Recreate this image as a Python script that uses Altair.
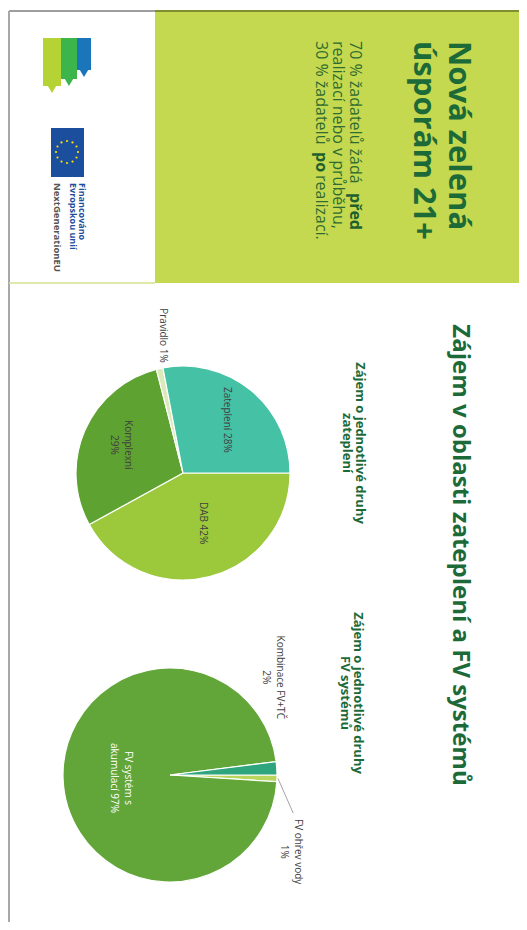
import math
import altair as alt
import pandas as pd

# ---------------- data ----------------
ins_cat = ["DAB", "Komplexní", "Pravidlo", "Zateplení"]
ins_pct = [42, 29, 1, 28]
ins_lab = ["DAB 42%", "Komplexní\n29%", "Pravidlo 1%", "Zateplení 28%"]

pv_cat = ["FV ohřev vody", "FV systém s akumulací", "Kombinace FV+TČ"]
pv_pct = [1, 97, 2]
pv_lab = ["FV ohřev vody\n1%", "FV systém s\nakumulací 97%", "Kombinace FV+TČ\n2%"]

main_title = "Zájem v oblasti zateplení a FV systémů"
ins_title = "Zájem o jednotlivé druhy\nzateplení"
pv_title = "Zájem o jednotlivé druhy\nFV systémů"
head_title = "Nová zelená\núsporám 21+"
sub_lines = ["70 % žadatelů žádá ", "realizací nebo v průběhu,", "30 % žadatelů "]
sub_bold = ["před", "po"]
sub_tail = "realizací."
eu_lines = ["Financováno", "Evropskou unií", "NextGenerationEU"]

# ---------------- styles / layout ----------------
FONT = "Open Sans"
W, H = 511, 914
XS = alt.Scale(domain=[8, 8 + W], nice=False, zero=False)
YS = alt.Scale(domain=[8, 8 + H], nice=False, zero=False, reverse=True)
TS = alt.Scale(domain=[0, 100], range=[math.pi / 2, math.pi / 2 + 2 * math.pi])
all_cat = ins_cat + pv_cat
all_col = ["#9BC93B", "#5EA332", "#DCE9B8", "#45C2A5",
           "#B9D65C", "#62A539", "#2EA57C"]
CS = alt.Scale(domain=all_cat, range=all_col)
GREEN_DARK = "#1D6A39"
LABEL = "#404040"

ins_center, pv_center, R = (183, 473), (170, 775), 107
ins_lab_r = [54, 62, 139, 69]
ins_lab_adj = [-2.1, 1.0, 1.2, 0]
ins_lab_col = [LABEL, LABEL, LABEL, LABEL]
pv_lab_r = [149, 42, 147]
pv_lab_adj = [8.1, -0.64, -10.58]
pv_lab_col = [LABEL, "white", LABEL]


def X(f):
    return alt.X(f, scale=XS, axis=None)


def Y(f):
    return alt.Y(f, scale=YS, axis=None)


def pie(cats, pcts, labs, center, lr, adj, lc):
    df = pd.DataFrame({"cat": cats, "pct": pcts, "lab": labs, "idx": list(range(len(cats))),
                       "lr": lr, "adj": adj, "lc": lc})
    base = alt.Chart(df).transform_window(
        s1="sum(pct)", sort=[alt.SortField("idx")], frame=[None, 0]
    ).transform_calculate(
        s0="datum.s1 - datum.pct", lt="datum.s1 - datum.pct / 2 + datum.adj"
    )
    cx, cy = center[0] - 8, center[1] - 8
    arcs = base.mark_arc(radius=R, stroke="white", strokeWidth=1.2).encode(
        x=alt.value(cx), y=alt.value(cy),
        theta=alt.Theta("s0:Q", scale=TS, stack=None), theta2=alt.Theta2("s1:Q"),
        color=alt.Color("cat:N", scale=CS, legend=None),
    )
    labels = base.mark_text(angle=90, align="center", baseline="middle", fontSize=10,
                            font=FONT, lineBreak="\n", lineHeight=14).encode(
        x=alt.value(cx), y=alt.value(cy),
        theta=alt.Theta("lt:Q", scale=TS, stack=None),
        radius=alt.Radius("lr:Q", scale=None),
        text="lab:N",
        color=alt.Color("lc:N", scale=None),
    )
    return arcs, labels


ins_arcs, ins_labels = pie(ins_cat, ins_pct, ins_lab, ins_center, ins_lab_r, ins_lab_adj, ins_lab_col)
pv_arcs, pv_labels = pie(pv_cat, pv_pct, pv_lab, pv_center, pv_lab_r, pv_lab_adj, pv_lab_col)

# leader line for the 1 % PV slice, from the slice's own mid angle
mid = (pv_pct[0] / 2) / 100
a0 = math.pi / 2 + mid * 2 * math.pi
a1 = a0 + 0.0428 * 2 * math.pi
leader = pd.DataFrame({
    "x1": [pv_center[0] + 108 * math.sin(a0)], "y1": [pv_center[1] - 108 * math.cos(a0)],
    "x2": [pv_center[0] + 129 * math.sin(a1)], "y2": [pv_center[1] - 129 * math.cos(a1)],
})
leader_layer = alt.Chart(leader).mark_rule(color="#8C8C8C", strokeWidth=0.8).encode(
    x=X("x1:Q"), y=Y("y1:Q"), x2="x2:Q", y2="y2:Q")

# background shapes
rects = pd.DataFrame({
    "x1": [155, 43, 61, 77, 51], "x2": [522, 61, 77, 91, 84],
    "y1": [11, 38, 38, 38, 128], "y2": [283, 86, 79, 70, 177],
    "c": ["#C4D94F", "#B5D334", "#3CB54A", "#1B75BB", "#1C4E9E"],
})
rect_layer = alt.Chart(rects).mark_rect().encode(
    x=X("x1:Q"), x2="x2:Q", y=Y("y1:Q"), y2="y2:Q", color=alt.Color("c:N", scale=None))

tips = pd.DataFrame({"x": [52, 69, 84], "y": [89, 82, 73],
                     "c": ["#B5D334", "#3CB54A", "#1B75BB"]})
tip_layer = alt.Chart(tips).mark_point(shape="triangle-down", filled=True, size=90, opacity=1).encode(
    x=X("x:Q"), y=Y("y:Q"), color=alt.Color("c:N", scale=None))

stars = pd.DataFrame({
    "x": [67 + 11 * math.cos(k * math.pi / 6) for k in range(12)],
    "y": [152 + 11 * math.sin(k * math.pi / 6) for k in range(12)],
})
star_layer = alt.Chart(stars).mark_point(shape="circle", filled=True, size=5, color="#FFE000", opacity=1).encode(
    x=X("x:Q"), y=Y("y:Q"))

lines = pd.DataFrame({
    "x1": [9, 155, 9, 523, 9], "x2": [155, 523, 9, 523, 155],
    "y1": [11, 11, 11, 11, 283], "y2": [11, 11, 922, 922, 283],
    "c": ["#9E9E9E", "#7F8F2E", "#A8A8A8", "#BDBDBD", "#D3E38E"],
    "w": [2, 2, 2, 2, 1.5],
})
line_layer = alt.Chart(lines).mark_rule().encode(
    x=X("x1:Q"), x2="x2:Q", y=Y("y1:Q"), y2="y2:Q",
    color=alt.Color("c:N", scale=None), strokeWidth=alt.StrokeWidth("w:Q", scale=None))


def text_layer(rows, **kw):
    df = pd.DataFrame(rows, columns=["t", "x", "y"])
    props = dict(angle=90, baseline="middle", font=FONT, lineBreak="\n")
    props.update(kw)
    return alt.Chart(df).mark_text(**props).encode(x=X("x:Q"), y=Y("y:Q"), text="t:N")


t_main = text_layer([(main_title, 460, 555)], align="center", fontSize=24, fontWeight="bold", color=GREEN_DARK)
t_sec = text_layer([(ins_title, 360, 443), (pv_title, 358, 693)], align="center", fontSize=13,
                   fontWeight="bold", color=GREEN_DARK, lineHeight=13)
t_head = text_layer([(head_title, 458, 41)], align="left", fontSize=31, fontWeight="bold",
                    color=GREEN_DARK, lineHeight=35)
t_sub = text_layer([(sub_lines[0], 355, 41), (sub_lines[1], 338, 41), (sub_lines[2], 321, 41),
                    (sub_tail, 321, 175)], align="left", fontSize=16, color="#2E6B30")
t_subb = text_layer([(sub_bold[0], 355, 193), (sub_bold[1], 321, 152)], align="left", fontSize=16,
                    fontWeight="bold", color="#1F5E2E")
t_eu1 = text_layer([(eu_lines[0], 82, 183), (eu_lines[1], 73, 183)], align="left", fontSize=9,
                   fontWeight="bold", color="#1C4E9E")
t_eu2 = text_layer([(eu_lines[2], 57, 183)], align="left", fontSize=9.5, fontWeight="bold", color="#555555")

chart = alt.layer(
    rect_layer, tip_layer, star_layer, line_layer,
    ins_arcs, pv_arcs, leader_layer, ins_labels, pv_labels,
    t_main, t_sec, t_head, t_sub, t_subb, t_eu1, t_eu2,
).properties(
    width=W, height=H, autosize=alt.AutoSizeParams(type="none"), padding=0, background="white"
).configure_view(strokeWidth=0)

chart.save("out.html", embed_options={"renderer": "svg", "actions": False})
